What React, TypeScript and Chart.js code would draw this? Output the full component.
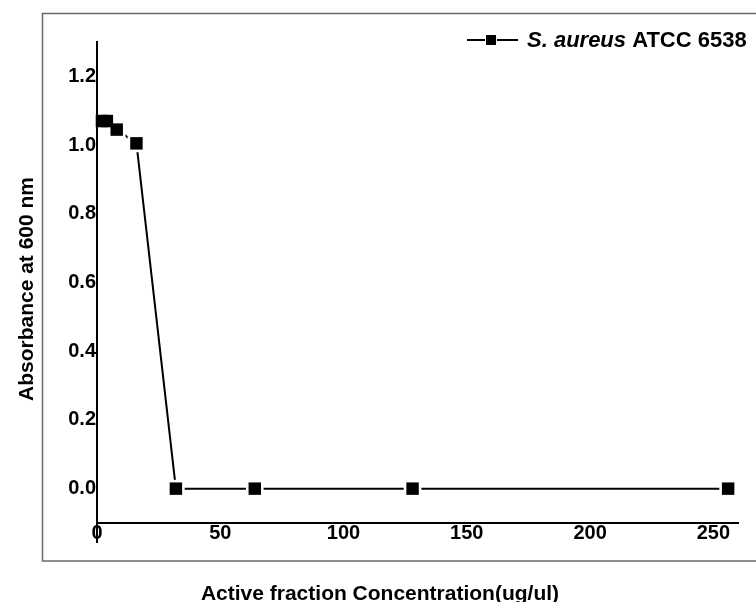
import React, { useEffect, useRef } from "react";
import { Chart, registerables } from "chart.js";

Chart.register(...registerables);

const concentrations = [2, 4, 8, 16, 32, 64, 128, 256];
const absorbance = [1.07, 1.07, 1.045, 1.005, 0, 0, 0, 0];
const yTickValues = [0, 0.2, 0.4, 0.6, 0.8, 1.0, 1.2];
const xTickValues = [0, 50, 100, 150, 200, 250];
const xTitle = "Active fraction Concentration(ug/ul)";
const yTitle = "Absorbance at 600 nm";
const legendItalic = "S. aureus";
const legendRest = " ATCC 6538";

const FONT = "'Liberation Sans', Arial, sans-serif";

const decorPlugin = {
  id: "decor",
  beforeDraw(chart: any) {
    const { ctx } = chart;
    ctx.save();
    ctx.fillStyle = "#ffffff";
    ctx.fillRect(0, 0, chart.width, chart.height);
    ctx.restore();
  },
  afterDatasetsDraw(chart: any) {
    const { ctx, chartArea } = chart;
    ctx.save();
    ctx.strokeStyle = "#000";
    ctx.lineWidth = 2;
    ctx.beginPath();
    ctx.moveTo(chartArea.left, chartArea.top);
    ctx.lineTo(chartArea.left, chartArea.bottom + 20);
    ctx.stroke();
    ctx.restore();
  },
  afterDraw(chart: any) {
    const { ctx } = chart;
    ctx.save();
    // outer frame
    ctx.strokeStyle = "#6a6a6a";
    ctx.lineWidth = 1.5;
    ctx.strokeRect(42.5, 13.5, 720, 547.5);

    // axis titles
    ctx.fillStyle = "#000";
    ctx.font = `bold 21px ${FONT}`;
    ctx.textAlign = "center";
    ctx.textBaseline = "alphabetic";
    ctx.fillText(xTitle, 380, 600);

    ctx.save();
    ctx.translate(33, 289);
    ctx.rotate(-Math.PI / 2);
    ctx.fillText(yTitle, 0, 0);
    ctx.restore();

    // legend
    const ly = 40;
    ctx.strokeStyle = "#000";
    ctx.lineWidth = 2;
    ctx.beginPath();
    ctx.moveTo(467, ly);
    ctx.lineTo(485, ly);
    ctx.moveTo(497, ly);
    ctx.lineTo(518, ly);
    ctx.stroke();
    ctx.fillStyle = "#000";
    ctx.fillRect(486, ly - 5, 10, 10);

    ctx.textAlign = "left";
    ctx.textBaseline = "alphabetic";
    ctx.font = `italic bold 22px ${FONT}`;
    ctx.fillText(legendItalic, 527, 47);
    const w = ctx.measureText(legendItalic).width;
    ctx.font = `bold 22px ${FONT}`;
    ctx.fillText(legendRest, 527 + w, 47);
    ctx.restore();
  },
};

export default function App() {
  const canvasRef = useRef<HTMLCanvasElement>(null);

  useEffect(() => {
    const points = concentrations.map((c, i) => ({ x: c, y: absorbance[i] }));
    const chart = new Chart(canvasRef.current as HTMLCanvasElement, {
      type: "line",
      data: {
        datasets: [
          {
            data: points,
            borderColor: "#000",
            borderWidth: 2,
            pointRadius: 0,
            fill: false,
            tension: 0,
            order: 3,
            clip: false,
          } as any,
          {
            data: points,
            showLine: false,
            pointStyle: "rect",
            pointRadius: 12.5,
            pointBackgroundColor: "#fff",
            pointBorderWidth: 0,
            order: 2,
            clip: false,
          } as any,
          {
            data: points,
            showLine: false,
            pointStyle: "rect",
            pointRadius: 8.8,
            pointBackgroundColor: "#000",
            pointBorderWidth: 0,
            order: 1,
            clip: false,
          } as any,
        ],
      },
      options: {
        responsive: false,
        animation: false,
        layout: { padding: { left: 0, top: 42, right: 18, bottom: 0 } },
        plugins: {
          legend: { display: false },
          tooltip: { enabled: false },
          title: { display: false },
        },
        scales: {
          x: {
            type: "linear",
            min: 0,
            max: 260,
            grid: { display: false, drawTicks: false },
            border: { display: true, color: "#000", width: 2 },
            afterFit(scale: any) {
              scale.height = 79;
            },
            afterBuildTicks(scale: any) {
              scale.ticks = xTickValues.map((v) => ({ value: v }));
            },
            ticks: {
              color: "#000",
              padding: -2,
              font: { family: FONT, size: 20, weight: "bold" },
              callback: (v: any) => String(v),
            },
          },
          y: {
            type: "linear",
            min: -0.1,
            max: 1.3,
            grid: { display: false, drawTicks: false },
            border: { display: true, color: "#000", width: 2 },
            afterFit(scale: any) {
              scale.width = 97;
            },
            afterBuildTicks(scale: any) {
              scale.ticks = yTickValues.map((v) => ({ value: v }));
            },
            ticks: {
              color: "#000",
              padding: 1,
              font: { family: FONT, size: 20, weight: "bold" },
              callback: (v: any) => Number(v).toFixed(1),
            },
          },
        },
      } as any,
      plugins: [decorPlugin],
    });
    return () => chart.destroy();
  }, []);

  return (
    <div style={{ position: "fixed", left: 0, top: 0, width: 756, height: 602, background: "#fff" }}>
      <canvas ref={canvasRef} width={756} height={602} style={{ width: 756, height: 602, display: "block" }} />
    </div>
  );
}
